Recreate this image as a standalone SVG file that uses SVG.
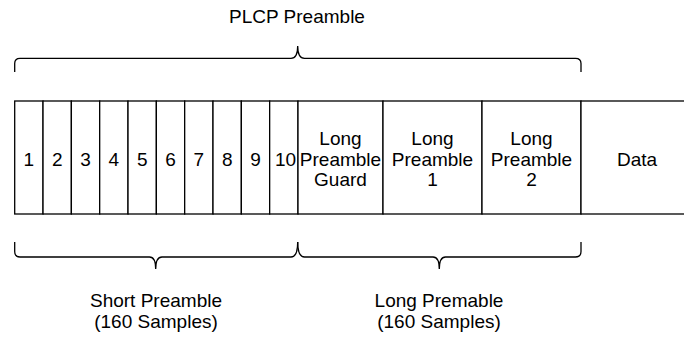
<svg xmlns="http://www.w3.org/2000/svg" width="684" height="337" viewBox="0 0 684 337">
<style>
.cell{fill:#fff;stroke:#000;stroke-width:1.3}
.br{fill:none;stroke:#000;stroke-width:1.3}
text{font-family:"Liberation Sans",Arial,sans-serif;font-size:19px;fill:#000;text-anchor:middle}
</style>
<rect width="684" height="337" fill="#fff"/>
<g id="s1"><rect class="cell" x="14.7" y="101" width="28.33" height="113"/><text x="28.9" y="166">1</text></g>
<g id="s2"><rect class="cell" x="43.03" y="101" width="28.33" height="113"/><text x="57.2" y="166">2</text></g>
<g id="s3"><rect class="cell" x="71.36" y="101" width="28.33" height="113"/><text x="85.5" y="166">3</text></g>
<g id="s4"><rect class="cell" x="99.69" y="101" width="28.33" height="113"/><text x="113.9" y="166">4</text></g>
<g id="s5"><rect class="cell" x="128.02" y="101" width="28.33" height="113"/><text x="142.2" y="166">5</text></g>
<g id="s6"><rect class="cell" x="156.35" y="101" width="28.33" height="113"/><text x="170.5" y="166">6</text></g>
<g id="s7"><rect class="cell" x="184.68" y="101" width="28.33" height="113"/><text x="198.8" y="166">7</text></g>
<g id="s8"><rect class="cell" x="213.01" y="101" width="28.33" height="113"/><text x="227.2" y="166">8</text></g>
<g id="s9"><rect class="cell" x="241.34" y="101" width="28.33" height="113"/><text x="255.5" y="166">9</text></g>
<g id="s10"><rect class="cell" x="269.67" y="101" width="28.33" height="113"/><text x="285.5" y="166">10</text></g>
<g id="lpg"><rect class="cell" x="298" y="101" width="85" height="113"/><text x="340.5" y="145">Long</text><text x="340.5" y="166">Preamble</text><text x="340.5" y="186">Guard</text></g>
<g id="lp1"><rect class="cell" x="383" y="101" width="99" height="113"/><text x="432.5" y="145">Long</text><text x="432.5" y="166">Preamble</text><text x="432.5" y="186">1</text></g>
<g id="lp2"><rect class="cell" x="482" y="101" width="99" height="113"/><text x="531.5" y="145">Long</text><text x="531.5" y="166">Preamble</text><text x="531.5" y="186">2</text></g>
<g id="data"><rect class="cell" x="581" y="101" width="112" height="113"/><text x="637" y="166">Data</text></g>
<g id="braces">
<path class="br" d="M14.7,72 L14.7,63.5 Q14.7,58.3 20,58.3 L291,58.3 Q297.7,58.3 297.7,46 Q297.7,58.3 304.5,58.3 L575.5,58.3 Q581,58.3 581,63.5 L581,72"/>
<path class="br" d="M14.7,242 L14.7,251.5 Q14.7,257 20,257 L149.5,257 Q155.7,257 155.7,269 Q155.7,257 162,257 L291,257 Q297.7,257 297.7,242"/>
<path class="br" d="M297.7,242 Q297.7,257 304.5,257 L433,257 Q439.3,257 439.3,269 Q439.3,257 445.5,257 L575.5,257 Q581,257 581,251.5 L581,242"/>
</g>
<g id="labels">
<text x="297" y="23">PLCP Preamble</text>
<text x="156" y="307">Short Preamble</text>
<text x="156" y="328">(160 Samples)</text>
<text x="439" y="307">Long Premable</text>
<text x="439" y="328">(160 Samples)</text>
</g>
</svg>
